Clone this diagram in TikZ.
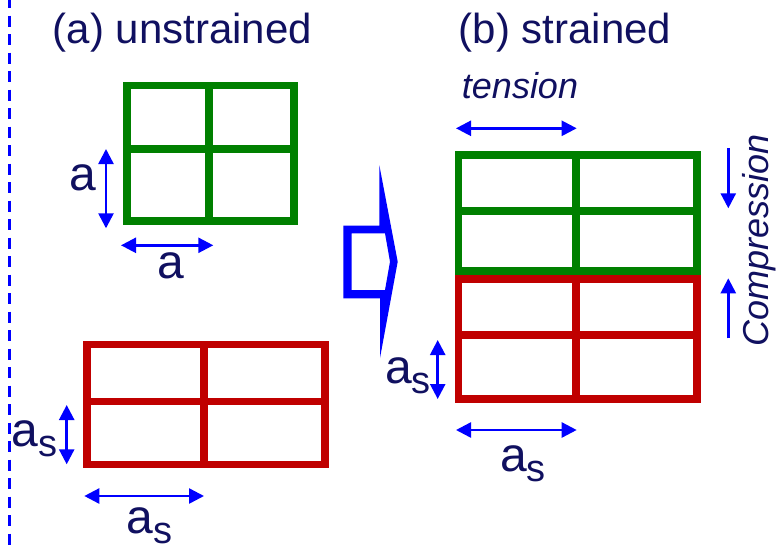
\documentclass[tikz,border=0pt]{standalone}
\usepackage{fontspec}
\setmainfont{Liberation Sans}
\usetikzlibrary{arrows.meta}
\definecolor{txt}{RGB}{16,16,96}
\definecolor{grn}{RGB}{0,128,0}
\definecolor{rd}{RGB}{192,0,0}
\definecolor{blu}{RGB}{0,0,255}
\newcommand{\asub}{a\raisebox{-10pt}{\fontsize{38}{38}\selectfont s}}
\tikzset{
  dimarr/.style={draw=blu, line width=2.5pt, {Triangle[length=15pt,width=15pt]}-{Triangle[length=15pt,width=15pt]}},
  onearr/.style={draw=blu, line width=2.5pt, -{Triangle[length=15pt,width=15pt]}},
  gridline/.style={line width=7.5pt, line join=miter, line cap=rect},
  title/.style={text=txt, font=\fontsize{42}{42}\selectfont, inner sep=0pt, anchor=base},
  lbl/.style={text=txt, font=\fontsize{48}{48}\selectfont, inner sep=0pt, anchor=base},
  itl/.style={text=txt, font=\fontsize{36}{36}\selectfont\itshape, inner sep=0pt, anchor=base},
}
\begin{document}
\begin{tikzpicture}[x=1pt,y=-1pt]
\useasboundingbox (0,0) rectangle (779,544);
% left dashed line
\draw[blu, line width=2.7pt, dash pattern=on 11pt off 7.5pt] (9.7,-3) -- (9.7,547);
% titles
\node[title] (ta) at (182.5,43) {(a) unstrained};
\node[title] (tb) at (565,43) {(b) strained};
% green grid (a)
\draw[grn, gridline] (127.2,85.5) rectangle (293.8,221.2);
\draw[grn, gridline] (208.8,85.5) -- (208.8,221.2);
\draw[grn, gridline] (127.2,148.8) -- (293.8,148.8);
% red grid (a)
\draw[rd, gridline] (87.2,344.5) rectangle (325,464.7);
\draw[rd, gridline] (204,344.5) -- (204,464.7);
\draw[rd, gridline] (87.2,401.3) -- (325,401.3);
% green grid (b)
\draw[grn, gridline] (458.5,155) rectangle (697,271);
\draw[grn, gridline] (576,155) -- (576,271);
\draw[grn, gridline] (458.5,211) -- (697,211);
% red grid (b)
\draw[rd, gridline] (458.5,279) rectangle (697,399);
\draw[rd, gridline] (576,279) -- (576,399);
\draw[rd, gridline] (458.5,335) -- (697,335);
% big hollow arrow
\fill[blu, even odd rule]
  (343.3,225.7) -- (379.3,225.7) -- (379.3,165) -- (397.7,261.7) -- (380,358) -- (380,298.3) -- (343.3,298.3) -- cycle
  (351.7,233.3) -- (385,233.3) -- (390,261.7) -- (385,290) -- (351.7,290) -- cycle;
% dimension arrow coordinates
\coordinate (av1) at (106,149);   \coordinate (av2) at (106,228.3);
\coordinate (ah1) at (121,245.3); \coordinate (ah2) at (213.3,245.3);
\coordinate (rv1) at (66.7,405);  \coordinate (rv2) at (66.7,464.3);
\coordinate (rh1) at (84.3,496);  \coordinate (rh2) at (204,496);
\coordinate (tn1) at (456,128.3); \coordinate (tn2) at (576.7,128.3);
\coordinate (bv1) at (437.7,340); \coordinate (bv2) at (437.7,399);
\coordinate (bh1) at (456,430);   \coordinate (bh2) at (576.7,430);
\coordinate (cd1) at (728.3,148.3); \coordinate (cd2) at (728.3,208.3);
\coordinate (cu1) at (728.3,338.3); \coordinate (cu2) at (728.3,278.3);
\draw[dimarr] (av1) -- (av2);
\draw[dimarr] (ah1) -- (ah2);
\draw[dimarr] (rv1) -- (rv2);
\draw[dimarr] (rh1) -- (rh2);
\draw[dimarr] (tn1) -- (tn2);
\draw[dimarr] (bv1) -- (bv2);
\draw[dimarr] (bh1) -- (bh2);
\draw[onearr] (cd1) -- (cd2);
\draw[onearr] (cu1) -- (cu2);
% labels
\node[lbl] (la1) at (83.3,190) {a};
\node[lbl] (la2) at (170.8,278.5) {a};
\node[lbl, anchor=base west] (la3) at (11.6,446.7) {\asub};
\node[lbl, anchor=base west] (la4) at (126.3,533.3) {\asub};
\node[lbl, anchor=base west] (la5) at (385,383.3) {\asub};
\node[lbl, anchor=base west] (la6) at (500,471.7) {\asub};
\node[itl] (ten) at (520,98) {tension};
\node[itl, rotate=90] (comp) at (768,240) {Compression};
\end{tikzpicture}
\end{document}
